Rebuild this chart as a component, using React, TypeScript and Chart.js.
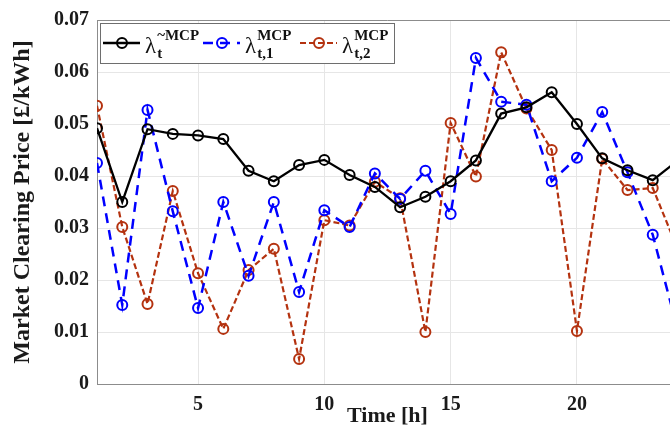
import React, { useEffect, useRef } from "react";
import { Chart, registerables } from "chart.js";

Chart.register(...registerables);

const hours = [1, 2, 3, 4, 5, 6, 7, 8, 9, 10, 11, 12, 13, 14, 15, 16, 17, 18, 19, 20, 21, 22, 23, 24];
const lambdaTilde = [0.0492, 0.035, 0.049, 0.0481, 0.0478, 0.0471, 0.041, 0.039, 0.0421, 0.0431, 0.0402, 0.0379, 0.034, 0.036, 0.039, 0.043, 0.052, 0.0532, 0.0561, 0.05, 0.0434, 0.0411, 0.0392, 0.043];
const lambda1 = [0.0425, 0.0152, 0.0527, 0.0332, 0.0146, 0.035, 0.0208, 0.035, 0.0177, 0.0334, 0.0302, 0.0405, 0.0356, 0.041, 0.0327, 0.0627, 0.0543, 0.0537, 0.039, 0.0435, 0.0523, 0.0407, 0.0287, 0.0102];
const lambda2 = [0.0535, 0.0302, 0.0154, 0.0371, 0.0213, 0.0106, 0.0219, 0.026, 0.0048, 0.0315, 0.0305, 0.0389, 0.0357, 0.01, 0.0502, 0.0399, 0.0638, 0.053, 0.045, 0.0102, 0.0433, 0.0373, 0.0377, 0.0258];
const xTicks = [5, 10, 15, 20];
const yTicks = [0, 0.01, 0.02, 0.03, 0.04, 0.05, 0.06, 0.07];
const legendSup = ["~MCP", "MCP", "MCP"];
const legendSub = ["t", "t,1", "t,2"];

const COLORS = ["#000000", "#0000ff", "#b4320f"];
const DASHES: number[][] = [[], [10, 7], [6, 3]];
const WIDTHS = [2.3, 2.5, 2.2];
const SERIF = '"Liberation Serif", "Times New Roman", serif';

const legendPlugin = {
  id: "mlLegend",
  afterDatasetsDraw(chart: any) {
    const ctx = chart.ctx;
    const area = chart.chartArea;
    ctx.save();
    ctx.strokeStyle = "#8c8c8c";
    ctx.lineWidth = 1;
    ctx.beginPath();
    ctx.moveTo(area.left, Math.round(area.top) + 0.5);
    ctx.lineTo(area.right, Math.round(area.top) + 0.5);
    ctx.stroke();

    const bx = 100, by = 23, bw = 294, bh = 40;
    ctx.fillStyle = "#ffffff";
    ctx.fillRect(bx, by, bw, bh);
    ctx.strokeStyle = "#6e6e6e";
    ctx.strokeRect(bx + 0.5, by + 0.5, bw, bh);
    const cy = 43;
    const starts = [103, 203, 300];
    for (let i = 0; i < 3; i++) {
      const x0 = starts[i];
      ctx.strokeStyle = COLORS[i];
      ctx.lineWidth = WIDTHS[i];
      ctx.setLineDash(DASHES[i]);
      ctx.beginPath();
      ctx.moveTo(x0, cy);
      ctx.lineTo(x0 + 37, cy);
      ctx.stroke();
      ctx.setLineDash([]);
      ctx.lineWidth = 2;
      ctx.beginPath();
      ctx.arc(x0 + 19, cy, 5, 0, Math.PI * 2);
      ctx.stroke();
      ctx.fillStyle = "#111";
      ctx.textBaseline = "alphabetic";
      ctx.textAlign = "left";
      ctx.font = `23px ${SERIF}`;
      ctx.fillText("λ", x0 + 42, 53);
      const w = ctx.measureText("λ").width;
      ctx.font = `bold 15px ${SERIF}`;
      ctx.fillText(legendSup[i], x0 + 42 + w + 1, 40);
      ctx.fillText(legendSub[i], x0 + 42 + w + 1, 58);
    }
    ctx.restore();
  },
};

export default function App() {
  const ref = useRef<HTMLCanvasElement | null>(null);
  useEffect(() => {
    if (!ref.current) return;
    const series = [lambdaTilde, lambda1, lambda2];
    const chart = new Chart(ref.current, {
      type: "line",
      data: {
        datasets: series.map((s, i) => ({
          label: `λ${legendSub[i]}`,
          data: hours.map((h, j) => ({ x: h, y: s[j] })),
          borderColor: COLORS[i],
          borderWidth: WIDTHS[i],
          borderDash: DASHES[i],
          pointRadius: 5,
          pointBorderWidth: 2,
          pointBorderColor: COLORS[i],
          pointBackgroundColor: "rgba(0,0,0,0)",
          pointStyle: "circle",
          tension: 0,
          fill: false,
        })),
      },
      options: {
        animation: false,
        responsive: false,
        layout: { padding: { top: 20, right: 12, left: 0, bottom: 0 } },
        plugins: { legend: { display: false }, tooltip: { enabled: false } },
        scales: {
          x: {
            type: "linear",
            min: 1,
            max: 24,
            afterBuildTicks: (s: any) => {
              s.ticks = xTicks.map((v) => ({ value: v }));
            },
            afterFit: (s: any) => {
              s.height = 46;
            },
            grid: { color: "#e6e6e6", lineWidth: 1, drawTicks: false },
            border: { color: "#8c8c8c", width: 1 },
            ticks: {
              padding: 9,
              color: "#1a1a1a",
              font: { family: SERIF, size: 20, weight: "bold" },
              maxRotation: 0,
            },
            title: {
              display: true,
              text: "Time [h]",
              color: "#1a1a1a",
              font: { family: SERIF, size: 22, weight: "bold" },
              padding: { top: 0, bottom: 0 },
            },
          },
          y: {
            min: 0,
            max: 0.07,
            afterBuildTicks: (s: any) => {
              s.ticks = yTicks.map((v) => ({ value: v }));
            },
            afterFit: (s: any) => {
              s.width = 97;
            },
            grid: { color: "#e6e6e6", lineWidth: 1, drawTicks: false },
            border: { color: "#8c8c8c", width: 1 },
            ticks: {
              padding: 8,
              color: "#1a1a1a",
              font: { family: SERIF, size: 20, weight: "bold" },
              callback: (v: any) => (Number(v) === 0 ? "0" : Number(v).toFixed(2)),
            },
            title: {
              display: true,
              text: "Market Clearing Price [£/kWh]",
              color: "#1a1a1a",
              font: { family: SERIF, size: 24, weight: "bold" },
              padding: { top: 8, bottom: 0 },
            },
          },
        },
      },
      plugins: [legendPlugin],
    });
    return () => chart.destroy();
  }, []);
  return (
    <div style={{ position: "absolute", left: 0, top: 0, width: 670, height: 430, overflow: "hidden", background: "#fff" }}>
      <canvas ref={ref} width={690} height={430} style={{ width: 690, height: 430, display: "block" }} />
    </div>
  );
}
